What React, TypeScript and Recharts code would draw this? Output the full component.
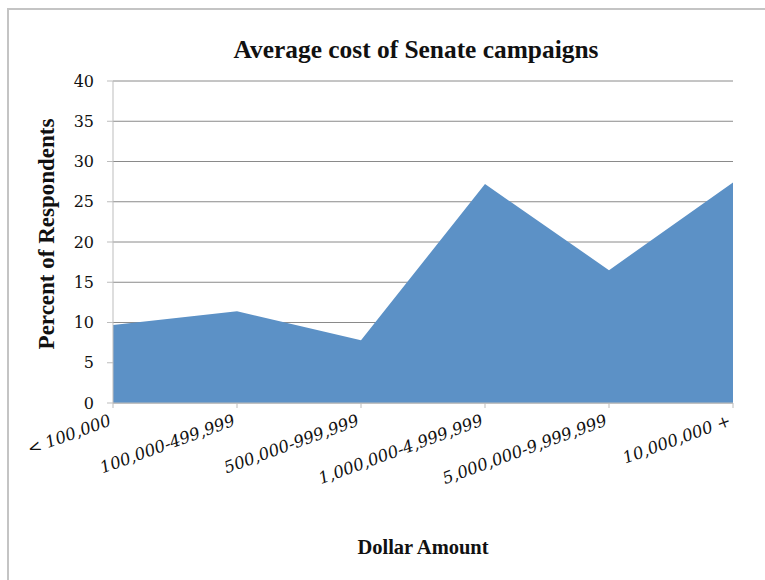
import React from "react";
import { AreaChart, Area, XAxis, YAxis, CartesianGrid } from "recharts";

const categories = [
  "< 100,000",
  "100,000-499,999",
  "500,000-999,999",
  "1,000,000-4,999,999",
  "5,000,000-9,999,999",
  "10,000,000 +",
];
const percents = [9.7, 11.4, 7.8, 27.2, 16.5, 27.4];
const yTicks = [0, 5, 10, 15, 20, 25, 30, 35, 40];

const data = categories.map((c, i) => ({ name: c, value: percents[i] }));

const XTick = (props: any) => {
  const { x, y, payload } = props;
  return (
    <g transform={`translate(${x - 1},${y + 15})`}>
      <text
        textAnchor="end"
        transform="rotate(-20)"
        fontFamily="'DejaVu Serif', serif"
        fontStyle="italic"
        fontSize={16.5}
        fill="#111"
      >
        {payload.value}
      </text>
    </g>
  );
};

export default function App() {
  return (
    <div style={{ position: "absolute", left: 0, top: 0, width: 765, height: 580, background: "#fff", overflow: "hidden" }}>
      <div
        style={{
          position: "absolute",
          left: 7,
          top: 8,
          width: 770,
          height: 590,
          borderTop: "2px solid #c4c4c4",
          borderLeft: "2px solid #c4c4c4",
        }}
      />
      <div style={{ position: "absolute", left: 0, top: 0 }}>
        <AreaChart
          width={765}
          height={580}
          data={data}
          margin={{ top: 81, right: 32, bottom: 117, left: 0 }}
        >
          <CartesianGrid vertical={false} stroke="#8a8a8a" strokeWidth={1} />
          <XAxis
            dataKey="name"
            height={60}
            interval={0}
            tickSize={5}
            stroke="#bdbdbd"
            tickLine={{ stroke: "#bdbdbd" }}
            tick={<XTick />}
          />
          <YAxis
            width={113}
            domain={[0, 40]}
            ticks={yTicks}
            interval={0}
            tickSize={6}
            tickMargin={13}
            stroke="#bdbdbd"
            tickLine={{ stroke: "#bdbdbd" }}
            tick={{ fill: "#111", fontFamily: "'DejaVu Serif', serif", fontSize: 16 }}
          />
          <Area
            type="linear"
            dataKey="value"
            fill="#5c91c6"
            fillOpacity={1}
            stroke="none"
            isAnimationActive={false}
          />
        </AreaChart>
      </div>
      <svg
        width={765}
        height={580}
        style={{ position: "absolute", left: 0, top: 0, pointerEvents: "none" }}
      >
        <text
          x={416}
          y={58}
          textAnchor="middle"
          fontFamily="'Liberation Serif', serif"
          fontWeight="bold"
          fontSize={25.4}
          fill="#111"
        >
          Average cost of Senate campaigns
        </text>
        <text
          x={423}
          y={554}
          textAnchor="middle"
          fontFamily="'Liberation Serif', serif"
          fontWeight="bold"
          fontSize={20.5}
          fill="#111"
        >
          Dollar Amount
        </text>
        <text
          transform="translate(54,234) rotate(-90)"
          textAnchor="middle"
          fontFamily="'Liberation Serif', serif"
          fontWeight="bold"
          fontSize={23}
          fill="#111"
        >
          Percent of Respondents
        </text>
      </svg>
    </div>
  );
}
